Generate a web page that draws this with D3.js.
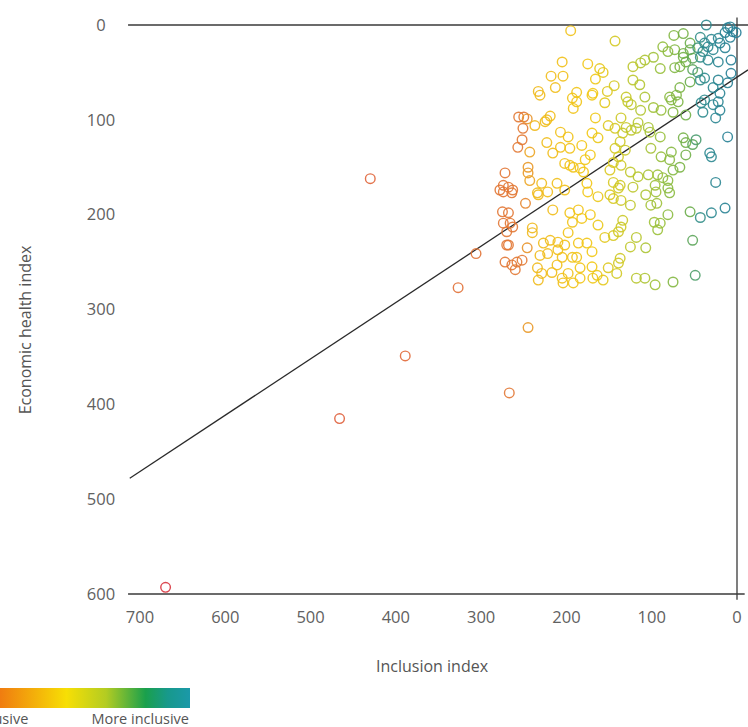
<!DOCTYPE html>
<html>
<head>
<meta charset="utf-8">
<script src="https://cdn.jsdelivr.net/npm/d3@7"></script>
<style>
	body { margin: 0; background: #fff; font-family: "Open Sans", sans-serif; }
	svg { display: block; }
</style>
</head>
<body>
<script>
var width = 748,
		height = 727;

// [inclusion index, economic health index]
var outliers = [
	[670, 593], [466, 415], [430, 162], [389, 349], [327, 277], [306, 241], [245, 319], [267, 388]
];

var orangePoints = [
	[256, 97], [250, 97], [246, 99], [251, 109], [252, 121], [257, 129], [243, 134], [245, 150],
	[245, 156], [243, 164], [272, 156], [274, 169], [268, 171], [263, 174], [278, 174], [274, 176],
	[264, 177], [248, 188], [275, 197], [268, 198], [274, 209], [266, 209], [263, 213], [270, 218],
	[240, 214], [240, 219], [268, 232], [246, 235], [270, 232], [272, 250], [264, 253], [258, 250],
	[252, 248], [260, 258]
];

var yellowPoints = [
	[195, 6], [143, 17], [205, 39], [175, 41], [161, 46], [157, 50], [218, 54], [204, 54],
	[166, 57], [233, 70], [213, 66], [188, 71], [169, 72], [152, 70], [144, 64], [237, 106],
	[225, 102], [219, 96], [223, 100], [231, 74], [193, 77], [188, 81], [192, 88], [170, 74],
	[155, 82], [166, 98], [151, 106], [143, 109], [207, 113], [198, 118], [223, 124], [207, 129],
	[196, 130], [216, 135], [182, 127], [170, 114], [163, 119], [143, 130], [202, 146], [196, 148],
	[192, 150], [184, 151], [172, 137], [178, 142], [180, 155], [176, 167], [229, 167], [211, 167],
	[202, 174], [222, 176], [175, 176], [145, 145], [149, 153], [145, 166], [139, 172], [234, 177],
	[136, 98], [134, 114], [137, 123], [131, 132], [139, 139], [136, 148], [137, 169],
	[233, 179], [216, 195], [196, 198], [186, 195], [193, 208], [182, 204], [172, 200], [163, 181],
	[149, 179], [145, 183], [219, 227], [227, 230], [210, 229], [198, 219], [202, 232], [186, 230],
	[176, 230], [163, 211], [155, 224], [145, 222], [139, 218], [210, 237], [231, 243], [222, 241],
	[205, 245], [193, 245], [188, 245], [170, 239], [234, 256], [229, 262], [217, 261], [211, 253],
	[198, 262], [184, 256], [170, 255], [151, 256], [141, 262], [157, 269], [233, 269], [205, 267],
	[204, 272], [184, 267], [169, 267], [164, 264], [192, 272], [136, 185], [134, 206], [136, 213],
	[137, 246], [139, 251]
];

var greenPoints = [
	[74, 11], [63, 9], [55, 19], [87, 23], [81, 28], [73, 26], [63, 30], [55, 26],
	[46, 24], [98, 34], [108, 37], [113, 40], [63, 34], [60, 39], [52, 35], [122, 44],
	[90, 46], [73, 45], [67, 44], [52, 47], [46, 50], [122, 58], [114, 63], [108, 76],
	[67, 66], [55, 60], [79, 76], [71, 74], [130, 76], [128, 81], [124, 84], [113, 90],
	[98, 87], [89, 90], [75, 92], [77, 79], [69, 81], [60, 95], [130, 108], [124, 111],
	[118, 109], [116, 103], [104, 108], [102, 113], [90, 118], [101, 130], [63, 119], [60, 124],
	[48, 121], [52, 126], [60, 137], [77, 134], [89, 139], [79, 142], [67, 150], [125, 155],
	[116, 160], [104, 158], [93, 158], [87, 161], [81, 164], [75, 153], [122, 171], [96, 169],
	[81, 172], [125, 190], [125, 234], [107, 179], [95, 176], [79, 177], [101, 190], [94, 188],
	[81, 200], [97, 208], [90, 209], [93, 216], [118, 224], [107, 235], [55, 197], [52, 227],
	[49, 264], [118, 267], [108, 267], [96, 274], [75, 271]
];

var tealPoints = [
	[36, 0], [11, 3], [5, 7], [14, 8], [1, 8], [8, 2], [8, 13], [43, 13], [38, 19], [30, 15],
	[22, 14], [20, 19], [40, 28], [34, 23], [28, 26], [14, 24], [43, 34], [34, 37], [22, 39],
	[7, 37], [38, 56], [22, 58], [7, 51], [43, 58], [28, 66], [20, 72], [11, 61], [40, 92],
	[28, 84], [22, 81], [20, 90], [25, 98], [11, 118], [32, 135], [30, 139], [25, 166], [42, 82],
	[38, 79], [43, 203], [30, 198], [14, 193]
];

// trend line: health = slope * inclusion + intercept
var trendSlope = 0.594,
		trendIntercept = 55,
		trendFrom = 712,
		trendTo = -13;

var xTicks = [700, 600, 500, 400, 300, 200, 100, 0],
		yTicks = [0, 100, 200, 300, 400, 500, 600];

var colorDomain = [680, 450, 250, 240, 170, 130, 90, 55, 42, 0],
		colorRange = ["#d7313d", "#e0613a", "#e27a34", "#f0b81c", "#f2c814", "#c6c92a", "#98c03c", "#6aad4a", "#2f8c8e", "#247d97"];

var legendStops = [
	{ offset: "0%", color: "#e3322f" },
	{ offset: "23%", color: "#f07c10" },
	{ offset: "50%", color: "#f7df05" },
	{ offset: "66%", color: "#b3cc22" },
	{ offset: "82%", color: "#1aa04c" },
	{ offset: "91%", color: "#17998c" },
	{ offset: "100%", color: "#1b99a9" }
];

var allPoints = outliers.concat(orangePoints, yellowPoints, greenPoints, tealPoints);

var x = d3.scaleLinear().domain([700, 0]).range([140, 737]);
var y = d3.scaleLinear().domain([0, 600]).range([25, 594]);
var color = d3.scaleLinear().domain(colorDomain).range(colorRange);

var svg = d3.select("body")
	.append("svg")
	.attr("width", width)
	.attr("height", height);

/************************************** AXES *******************/
var axisColor = "#3a3a3a",
		labelColor = "#616161";

svg.append("line")
	.attr("x1", x(714)).attr("x2", width)
	.attr("y1", y(0)).attr("y2", y(0))
	.style("stroke", axisColor).style("stroke-width", 1.3);

svg.append("line")
	.attr("x1", x(714)).attr("x2", x(-9))
	.attr("y1", y(600)).attr("y2", y(600))
	.style("stroke", axisColor).style("stroke-width", 1.3);

svg.append("line")
	.attr("x1", x(0)).attr("x2", x(0))
	.attr("y1", y(-8)).attr("y2", y(606))
	.style("stroke", axisColor).style("stroke-width", 1.3);

svg.append("g")
	.selectAll("text")
	.data(yTicks)
	.enter()
	.append("text")
	.attr("x", 101)
	.attr("y", function (d) { return y(d); })
	.attr("dy", "0.35em")
	.attr("text-anchor", "middle")
	.style("font-size", "16.5px")
	.style("fill", labelColor)
	.text(function (d) { return d; });

svg.append("g")
	.selectAll("text")
	.data(xTicks)
	.enter()
	.append("text")
	.attr("x", function (d) { return x(d); })
	.attr("y", 617)
	.attr("dy", "0.35em")
	.attr("text-anchor", "middle")
	.style("font-size", "16.5px")
	.style("fill", labelColor)
	.text(function (d) { return d; });

svg.append("text")
	.attr("x", 432)
	.attr("y", 666)
	.attr("dy", "0.35em")
	.attr("text-anchor", "middle")
	.style("font-size", "16px")
	.style("fill", "#555")
	.text("Inclusion index");

svg.append("text")
	.attr("transform", "translate(25,330) rotate(-90)")
	.attr("dy", "0.35em")
	.attr("text-anchor", "middle")
	.style("font-size", "16px")
	.style("fill", "#555")
	.text("Economic health index");

/************************************** TREND LINE *******************/
svg.append("line")
	.attr("x1", x(trendFrom))
	.attr("y1", y(trendSlope * trendFrom + trendIntercept))
	.attr("x2", x(trendTo))
	.attr("y2", y(trendSlope * trendTo + trendIntercept))
	.style("stroke", "#2a2a2a")
	.style("stroke-width", 1.3);

/************************************** POINTS *******************/
svg.append("g")
	.selectAll("circle")
	.data(allPoints)
	.enter()
	.append("circle")
	.attr("cx", function (d) { return x(d[0]); })
	.attr("cy", function (d) { return y(d[1]); })
	.attr("r", 4.8)
	.style("fill", "none")
	.style("stroke", function (d) { return color(d[0]); })
	.style("stroke-width", 1.4)
	.style("stroke-opacity", 0.9);

/************************************** LEGEND *******************/
var grad = svg.append("defs")
	.append("linearGradient")
	.attr("id", "legendGrad");

grad.selectAll("stop")
	.data(legendStops)
	.enter()
	.append("stop")
	.attr("offset", function (d) { return d.offset; })
	.attr("stop-color", function (d) { return d.color; });

svg.append("rect")
	.attr("x", -57)
	.attr("y", 688)
	.attr("width", 247)
	.attr("height", 20)
	.style("fill", "url(#legendGrad)");

// the left end of the legend runs off the page, as in the original
svg.append("text")
	.attr("x", -63)
	.attr("y", 719)
	.attr("dy", "0.35em")
	.style("font-size", "14.5px")
	.style("fill", "#555")
	.text("Less inclusive");

svg.append("text")
	.attr("x", 189)
	.attr("y", 719)
	.attr("dy", "0.35em")
	.attr("text-anchor", "end")
	.style("font-size", "14.5px")
	.style("fill", "#555")
	.text("More inclusive");
</script>
</body>
</html>
